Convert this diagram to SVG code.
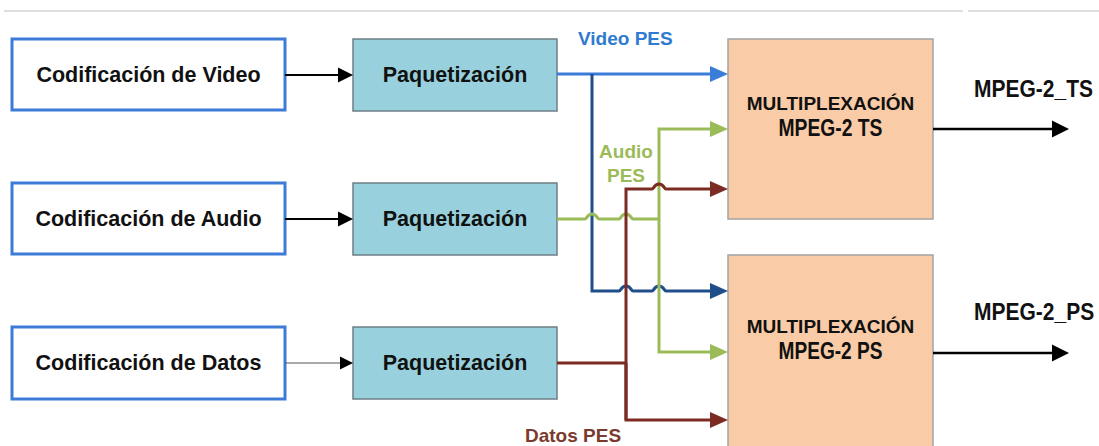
<svg xmlns="http://www.w3.org/2000/svg" width="1099" height="446" viewBox="0 0 1099 446">
  <style>
    text { font-family: "Liberation Sans", Arial, sans-serif; font-weight: bold; }
    .src { fill: #ffffff; stroke: #3c7bd6; stroke-width: 3; }
    .pkt { fill: #98d0dd; stroke: #6f7f85; stroke-width: 1.5; }
    .mux { fill: #f9cba6; stroke: #a3a3a3; stroke-width: 1.5; }
    .lbl { font-size: 21.5px; fill: #111; text-anchor: middle; }
    .mx1 { font-size: 19px; fill: #111; text-anchor: middle; }
    .mx2 { font-size: 23px; fill: #111; text-anchor: middle; }
    .out { font-size: 21px; fill: #111; }
    .pes { font-size: 19px; }
    .wire { fill: none; stroke-width: 3; stroke-linejoin: miter; }
    .vid { stroke: #3a7dd8; }
    .vid2 { stroke: #1f4e8a; }
    .aud { stroke: #9bbb59; }
    .dat { stroke: #7b2b22; }
  </style>
  <defs>
    <marker id="ah-vid" markerUnits="userSpaceOnUse" markerWidth="18" markerHeight="16" refX="0" refY="8" orient="auto" overflow="visible">
      <path d="M0,0 L18,8 L0,16 z" fill="#3a7dd8"/>
    </marker>
    <marker id="ah-vid2" markerUnits="userSpaceOnUse" markerWidth="18" markerHeight="16" refX="0" refY="8" orient="auto" overflow="visible">
      <path d="M0,0 L18,8 L0,16 z" fill="#1f4e8a"/>
    </marker>
    <marker id="ah-aud" markerUnits="userSpaceOnUse" markerWidth="18" markerHeight="16" refX="0" refY="8" orient="auto" overflow="visible">
      <path d="M0,0 L18,8 L0,16 z" fill="#9bbb59"/>
    </marker>
    <marker id="ah-dat" markerUnits="userSpaceOnUse" markerWidth="18" markerHeight="16" refX="0" refY="8" orient="auto" overflow="visible">
      <path d="M0,0 L18,8 L0,16 z" fill="#7b2b22"/>
    </marker>
    <marker id="ah-blk" markerUnits="userSpaceOnUse" markerWidth="15" markerHeight="15" refX="0" refY="7.5" orient="auto" overflow="visible">
      <path d="M0,0 L15,7.5 L0,15 z" fill="#000"/>
    </marker>
    <marker id="ah-thin" markerUnits="userSpaceOnUse" markerWidth="13" markerHeight="13" refX="0" refY="6.5" orient="auto" overflow="visible">
      <path d="M0,0 L13,6.5 L0,13 z" fill="#000"/>
    </marker>
    <marker id="ah-out" markerUnits="userSpaceOnUse" markerWidth="17" markerHeight="17" refX="0" refY="8.5" orient="auto" overflow="visible">
      <path d="M0,0 L17,8.5 L0,17 z" fill="#000"/>
    </marker>
  </defs>

  <!-- page rule -->
  <line x1="4" y1="11" x2="963" y2="11" stroke="#d4d4d4" stroke-width="1.5"/>
  <line x1="968" y1="11" x2="1099" y2="11" stroke="#d4d4d4" stroke-width="1.5"/>

  <!-- encoders -->
  <g id="enc-video">
    <rect class="src" x="12" y="39" width="273" height="71"/>
    <text class="lbl" x="148.5" y="82">Codificación de Video</text>
  </g>
  <g id="enc-audio">
    <rect class="src" x="12" y="183" width="273" height="71"/>
    <text class="lbl" x="148.5" y="226">Codificación de Audio</text>
  </g>
  <g id="enc-datos">
    <rect class="src" x="12" y="327" width="273" height="72"/>
    <text class="lbl" x="148.5" y="370">Codificación de Datos</text>
  </g>

  <!-- packetizers -->
  <g id="pkt-video">
    <rect class="pkt" x="353" y="39" width="204" height="72"/>
    <text class="lbl" x="455" y="82">Paquetización</text>
  </g>
  <g id="pkt-audio">
    <rect class="pkt" x="353" y="183" width="204" height="72"/>
    <text class="lbl" x="455" y="226">Paquetización</text>
  </g>
  <g id="pkt-datos">
    <rect class="pkt" x="353" y="327" width="204" height="72"/>
    <text class="lbl" x="455" y="370">Paquetización</text>
  </g>

  <!-- multiplexers -->
  <g id="mux-ts">
    <rect class="mux" x="728" y="39" width="205" height="180"/>
    <text class="mx1" x="830.5" y="110">MULTIPLEXACIÓN</text>
    <text class="mx2" x="830.5" y="135.5" textLength="104" lengthAdjust="spacingAndGlyphs">MPEG-2 TS</text>
  </g>
  <g id="mux-ps">
    <rect class="mux" x="728" y="255" width="205" height="200"/>
    <text class="mx1" x="830.5" y="333">MULTIPLEXACIÓN</text>
    <text class="mx2" x="830.5" y="359" textLength="104" lengthAdjust="spacingAndGlyphs">MPEG-2 PS</text>
  </g>

  <!-- connectors -->
  <g id="connectors">
    <!-- encoder to packetizer -->
    <line x1="285" y1="75" x2="338" y2="75" stroke="#000" stroke-width="2" marker-end="url(#ah-blk)"/>
    <line x1="285" y1="219" x2="338" y2="219" stroke="#000" stroke-width="2" marker-end="url(#ah-blk)"/>
    <line x1="285" y1="363" x2="340" y2="363" stroke="#555" stroke-width="1" marker-end="url(#ah-thin)"/>

    <!-- video PES -->
    <path class="wire vid" d="M557,74 H710" marker-end="url(#ah-vid)"/>
    <path class="wire vid2" d="M592,74 V291 H619 C621,291 621,286 626,286 C631,286 631,291 633,291 H652 C654,291 654,286 659,286 C664,286 664,291 666,291 H710" marker-end="url(#ah-vid2)"/>

    <!-- audio PES -->
    <path class="wire aud" d="M557,219 H585 C587,219 587,214 592,214 C597,214 597,219 599,219 H619 C621,219 621,214 626,214 C631,214 631,219 633,219 H659"/>
    <path class="wire aud" d="M659,219 V129 H710" marker-end="url(#ah-aud)"/>
    <path class="wire aud" d="M659,219 V352 H710" marker-end="url(#ah-aud)"/>

    <!-- datos PES -->
    <path class="wire dat" d="M557,363 H626"/>
    <path class="wire dat" d="M626,420 V189 H652 C654,189 654,184 659,184 C664,184 664,189 666,189 H710" marker-end="url(#ah-dat)"/>
    <path class="wire dat" d="M626,363 V420 H710" marker-end="url(#ah-dat)"/>

    <!-- multiplexer outputs -->
    <line x1="933" y1="129" x2="1052" y2="129" stroke="#000" stroke-width="2.5" marker-end="url(#ah-out)"/>
    <line x1="933" y1="353" x2="1052" y2="353" stroke="#000" stroke-width="2.5" marker-end="url(#ah-out)"/>

    <!-- stream labels -->
    <text class="pes" x="578" y="45" fill="#2e7bcf">Video PES</text>
    <text class="pes" x="626" y="158" fill="#9bbb59" text-anchor="middle">Audio</text>
    <text class="pes" x="626" y="182" fill="#9bbb59" text-anchor="middle">PES</text>
    <text class="pes" x="525" y="442" fill="#7b3a2e">Datos PES</text>
    <text class="out" transform="translate(974,97) scale(1,1.12)">MPEG-2_TS</text>
    <text class="out" transform="translate(974,320) scale(1,1.12)">MPEG-2_PS</text>
  </g>
</svg>
